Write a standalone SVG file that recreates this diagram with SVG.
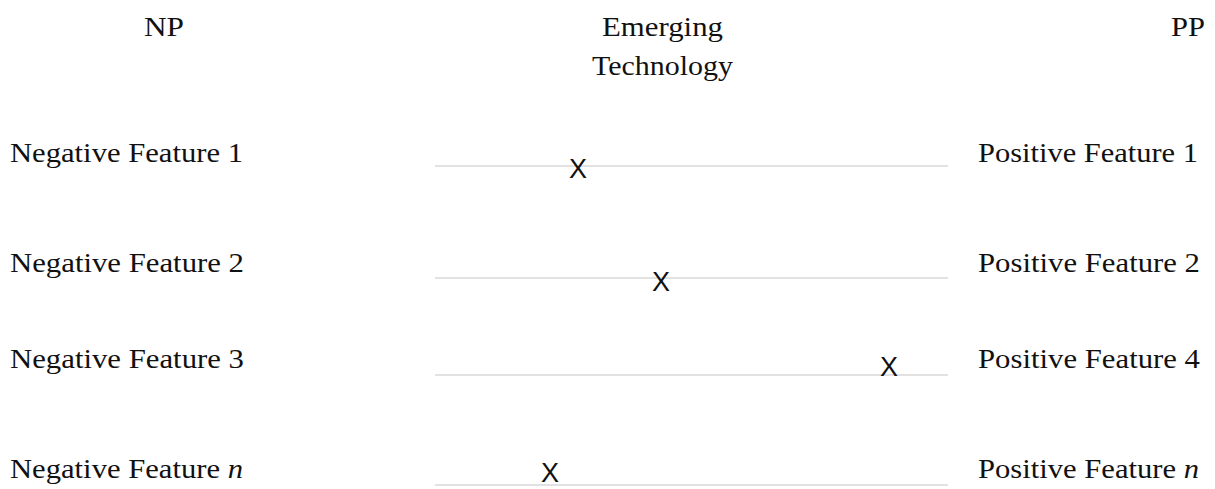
<svg xmlns="http://www.w3.org/2000/svg" width="1215" height="489" viewBox="0 0 1215 489">
  <style>
    .t { font-family: "Liberation Serif", "Times New Roman", serif; font-size: 28px; fill: #111; }
    .x { font-family: "Liberation Sans", Arial, sans-serif; font-size: 27px; fill: #111; text-anchor: middle; }
    .ln { stroke: #e2e2e2; stroke-width: 2; fill: none; }
  </style>
  <rect width="1215" height="489" fill="#ffffff"/>
  <g id="headers">
    <g id="np"><text class="t" x="144" y="36" textLength="40" lengthAdjust="spacingAndGlyphs">NP</text></g>
    <g id="emerging">
      <text class="t" x="602" y="36" textLength="121" lengthAdjust="spacingAndGlyphs">Emerging</text>
      <text class="t" x="592" y="75" textLength="141" lengthAdjust="spacingAndGlyphs">Technology</text>
    </g>
    <g id="pp"><text class="t" x="1171" y="36" textLength="34" lengthAdjust="spacingAndGlyphs">PP</text></g>
  </g>
  <g id="connectors">
    <line class="ln" x1="435" y1="166" x2="948" y2="166"/>
    <line class="ln" x1="435" y1="278" x2="948" y2="278"/>
    <line class="ln" x1="435" y1="375" x2="948" y2="375"/>
    <line class="ln" x1="435" y1="485" x2="948" y2="485"/>
  </g>
  <g id="row1">
    <text class="t" x="10" y="162" textLength="233" lengthAdjust="spacingAndGlyphs">Negative Feature 1</text>
    <text class="x" x="578" y="178">X</text>
    <text class="t" x="978" y="162" textLength="220" lengthAdjust="spacingAndGlyphs">Positive Feature 1</text>
  </g>
  <g id="row2">
    <text class="t" x="10" y="272" textLength="234" lengthAdjust="spacingAndGlyphs">Negative Feature 2</text>
    <text class="x" x="661" y="291">X</text>
    <text class="t" x="978" y="272" textLength="222" lengthAdjust="spacingAndGlyphs">Positive Feature 2</text>
  </g>
  <g id="row3">
    <text class="t" x="10" y="368" textLength="234" lengthAdjust="spacingAndGlyphs">Negative Feature 3</text>
    <text class="x" x="889" y="376">X</text>
    <text class="t" x="978" y="368" textLength="222" lengthAdjust="spacingAndGlyphs">Positive Feature 4</text>
  </g>
  <g id="rown">
    <text class="t" x="10" y="478" textLength="233" lengthAdjust="spacingAndGlyphs">Negative Feature <tspan font-style="italic">n</tspan></text>
    <text class="x" x="550" y="482">X</text>
    <text class="t" x="978" y="478" textLength="221" lengthAdjust="spacingAndGlyphs">Positive Feature <tspan font-style="italic">n</tspan></text>
  </g>
</svg>
